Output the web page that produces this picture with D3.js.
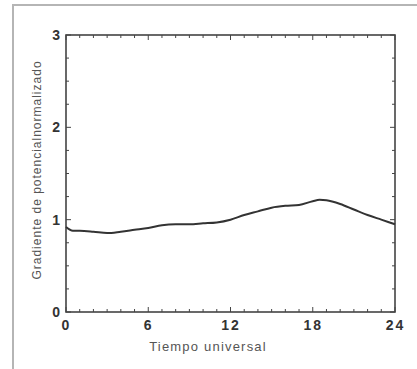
<!DOCTYPE html>
<html><head><meta charset="utf-8">
<script src="https://cdn.jsdelivr.net/npm/d3@7"></script>
<style>body{margin:0;background:#fff;}svg{display:block;}</style>
</head><body>
<svg id="c" width="417" height="369"></svg>
<script>
const hours  = [0, 0.5, 1, 2, 3, 4, 5, 6, 7, 8, 9, 10, 11, 12, 13, 14, 15, 16, 17, 18, 18.5, 19, 20, 21, 22, 23, 24];
const values = [0.92, 0.88, 0.88, 0.87, 0.855, 0.87, 0.89, 0.91, 0.94, 0.95, 0.95, 0.96, 0.97, 1.00, 1.05, 1.09, 1.13, 1.15, 1.16, 1.20, 1.215, 1.21, 1.17, 1.11, 1.05, 1.00, 0.95];
const xTicks = [0, 6, 12, 18, 24];
const yTicks = [0, 1, 2, 3];
const xMinor = d3.range(0, 25, 1);
const yMinor = d3.range(0, 3.001, 0.25);
const xTitle = "Tiempo universal";
const yTitle = "Gradiente de potencialnormalizado";

const svg = d3.select("#c");
const L = 66, R = 395, T = 35, B = 312;
const x = d3.scaleLinear().domain([0, 24]).range([L, R]);
const y = d3.scaleLinear().domain([0, 3]).range([B, T]);

// outer page frame
svg.append("path").attr("d", `M13,369 V5 H417`).attr("fill", "none")
  .attr("stroke", "#b5b5b5").attr("stroke-width", 2);

const frameCol = "#444";
const g = svg.append("g").attr("stroke", frameCol).attr("stroke-width", 1);
xMinor.forEach(v => {
  const len = xTicks.includes(v) ? 5 : 3;
  g.append("line").attr("x1", x(v)).attr("x2", x(v)).attr("y1", B).attr("y2", B - len);
  g.append("line").attr("x1", x(v)).attr("x2", x(v)).attr("y1", T).attr("y2", T + len);
});
yMinor.forEach(v => {
  const len = yTicks.includes(v) ? 5 : 3;
  g.append("line").attr("y1", y(v)).attr("y2", y(v)).attr("x1", L).attr("x2", L + len);
  g.append("line").attr("y1", y(v)).attr("y2", y(v)).attr("x1", R).attr("x2", R - len);
});

svg.append("rect").attr("x", L).attr("y", T).attr("width", R - L).attr("height", B - T)
  .attr("fill", "none").attr("stroke", frameCol).attr("stroke-width", 1.6);

const xAxis = svg.append("g").attr("transform", `translate(0,${B})`)
  .call(d3.axisBottom(x).tickValues(xTicks).tickSize(0).tickPadding(8).tickFormat(d3.format("d")));
xAxis.select(".domain").remove();
xAxis.selectAll("text").attr("font-family", "Liberation Sans, Arial, sans-serif")
  .attr("font-size", 14).attr("font-weight", "bold").attr("fill", "#333")
  .attr("letter-spacing", "2px");

const yAxis = svg.append("g").attr("transform", `translate(${L},0)`)
  .call(d3.axisLeft(y).tickValues(yTicks).tickSize(0).tickPadding(6).tickFormat(d3.format("d")));
yAxis.select(".domain").remove();
yAxis.selectAll("text").attr("font-family", "Liberation Sans, Arial, sans-serif")
  .attr("font-size", 14).attr("font-weight", "bold").attr("fill", "#333");

const line = d3.line().x((d, i) => x(hours[i])).y(d => y(d)).curve(d3.curveMonotoneX);
svg.append("path").datum(values).attr("d", line).attr("fill", "none")
  .attr("stroke", "#333").attr("stroke-width", 2);

svg.append("text").attr("x", 208).attr("y", 351).attr("text-anchor", "middle")
  .attr("font-family", "Liberation Sans, Arial, sans-serif").attr("font-size", 13)
  .attr("fill", "#555").attr("letter-spacing", "1.2px").text(xTitle);
svg.append("text").attr("transform", `translate(41,170) rotate(-90)`).attr("text-anchor", "middle")
  .attr("font-family", "Liberation Sans, Arial, sans-serif").attr("font-size", 12)
  .attr("fill", "#555").attr("letter-spacing", "1px").text(yTitle);
</script>
</body></html>
